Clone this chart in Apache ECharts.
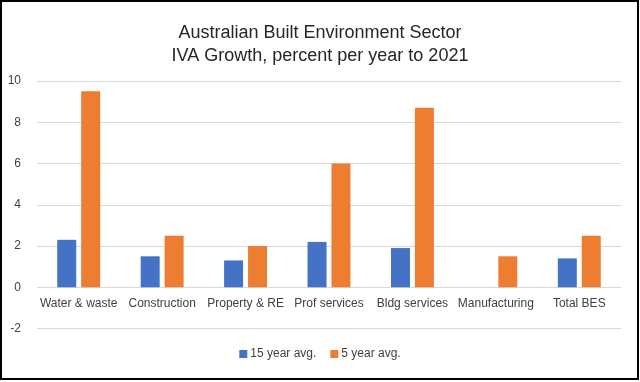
<!DOCTYPE html>
<html>
<head>
<meta charset="utf-8">
<script src="https://cdn.jsdelivr.net/npm/echarts@6/dist/echarts.min.js"></script>
<style>
html,body{margin:0;padding:0;background:#fff;}
#chart{width:640px;height:382px;}
</style>
</head>
<body>
<div id="chart"></div>
<script>
const categories = ['Water & waste','Construction','Property & RE','Prof services','Bldg services','Manufacturing','Total BES'];
const series15 = [2.3, 1.5, 1.3, 2.2, 1.9, 0, 1.4];
const series5 = [9.5, 2.5, 2.0, 6.0, 8.7, 1.5, 2.5];
const seriesNames = ['15 year avg.', '5 year avg.'];
const titleLines = ['Australian Built Environment Sector', 'IVA Growth, percent per year to 2021'];

const FONT = 'Liberation Sans';
const chart = echarts.init(document.getElementById('chart'), null, {renderer:'canvas'});
chart.setOption({
  animation:false,
  backgroundColor:'#fff',
  textStyle:{fontFamily:FONT},
  title:{
    text: titleLines.join('\n'),
    left:'center', top:17,
    textStyle:{fontFamily:FONT, fontSize:18, fontWeight:'normal', color:'#262626', lineHeight:23}
  },
  graphic:[{
    type:'rect', shape:{x:1, y:1, width:637, height:378},
    style:{fill:'none', stroke:'#000', lineWidth:2}, silent:true, z:100
  }],
  legend:{
    data:seriesNames, bottom:17, left:'center',
    itemWidth:8, itemHeight:8, itemGap:14, icon:'rect',
    textStyle:{fontFamily:FONT, fontSize:12, color:'#404040', padding:[0,0,0,-2]}
  },
  grid:{left:37, right:19, top:81, height:247.5, containLabel:false},
  xAxis:{
    type:'category', data:categories,
    axisLine:{show:false}, axisTick:{show:false},
    axisLabel:{fontFamily:FONT, fontSize:12, color:'#404040', margin:-31, verticalAlign:'top', interval:0}
  },
  yAxis:{
    type:'value', min:-2, max:10, interval:2,
    axisLine:{show:false}, axisTick:{show:false},
    axisLabel:{fontFamily:FONT, fontSize:12, color:'#404040', margin:16},
    splitLine:{lineStyle:{color:'#d9d9d9', width:1}}
  },
  series:[
    {name:seriesNames[0], type:'bar', data:series15, barWidth:19, barGap:'26%', itemStyle:{color:'#4472C4'}},
    {name:seriesNames[1], type:'bar', data:series5, barWidth:19, barGap:'26%', itemStyle:{color:'#ED7D31'}}
  ]
});
</script>
</body>
</html>
